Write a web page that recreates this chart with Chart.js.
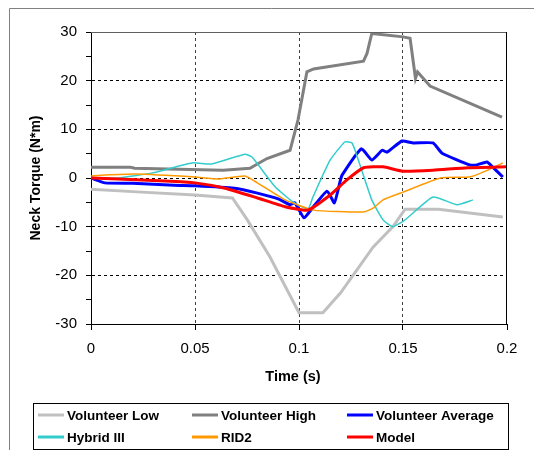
<!DOCTYPE html>
<html>
<head>
<meta charset="utf-8">
<script src="https://cdn.jsdelivr.net/npm/chart.js@4.4.1/dist/chart.umd.min.js"></script>
<style>
  html, body { margin: 0; padding: 0; background: #fff; }
  #wrap { position: relative; width: 534px; height: 450px; }
</style>
</head>
<body>
<div id="wrap"><canvas id="torque" width="534" height="450"></canvas></div>
<script>
// values (time in s, torque in N*m)
const lowT = [0, 0.02, 0.05, 0.068, 0.075, 0.086, 0.1, 0.1115, 0.12, 0.1356, 0.1452, 0.151, 0.167, 0.198];
const lowV = [-2.3, -2.8, -3.5, -4.1, -8.5, -16.2, -27.7, -27.7, -23.6, -14.2, -10, -6.4, -6.4, -8.0];

const highT = [0, 0.019, 0.021, 0.0635, 0.0764, 0.0846, 0.0957, 0.0995, 0.1038, 0.107, 0.131, 0.1327, 0.135, 0.15, 0.1534, 0.156, 0.157, 0.163, 0.1976];
const highV = [2.2, 2.2, 2.0, 1.6, 2.0, 4.0, 5.7, 11.9, 21.8, 22.4, 24, 25.6, 29.7, 29, 28.7, 20.5, 21.8, 18.9, 12.5];

const avgT = [0, 0.0067, 0.02, 0.04, 0.05, 0.069, 0.08, 0.09, 0.0957, 0.098, 0.1024, 0.106, 0.1135, 0.117, 0.1197, 0.1207, 0.13, 0.135, 0.14, 0.1423, 0.1495, 0.155, 0.1644, 0.1688, 0.182, 0.1856, 0.1904, 0.193, 0.198];
const avgV = [0, -1.0, -1.1, -1.5, -1.6, -2.1, -3.1, -4.3, -5.5, -5.1, -8.2, -6.4, -2.7, -5.1, -0.8, 0.6, 6.0, 3.7, 5.7, 5.3, 7.6, 7.2, 7.2, 5.1, 2.7, 2.7, 3.3, 2.3, 0.2];

const hybT = [0, 0.013, 0.029, 0.0486, 0.058, 0.074, 0.0774, 0.0885, 0.097, 0.1043, 0.1067, 0.115, 0.122, 0.1255, 0.129, 0.135, 0.1404, 0.1452, 0.151, 0.1644, 0.176, 0.1837];
const hybV = [0, 0, 1.0, 3.1, 2.9, 4.9, 4.3, -1.8, -4.9, -6.4, -3.9, 3.7, 7.4, 7.2, 3.1, -4.5, -8.6, -10.0, -8.6, -3.9, -5.5, -4.5];

const ridT = [0, 0.0067, 0.021, 0.05, 0.061, 0.074, 0.08, 0.0933, 0.107, 0.131, 0.1356, 0.1404, 0.15, 0.168, 0.182, 0.1885, 0.198];
const ridV = [0.4, 0.6, 0.8, 0.2, -0.2, 0.4, -1.0, -4.5, -6.6, -7.0, -6.2, -4.5, -2.9, 0, 0.2, 1.2, 3.1];

const modT = [0, 0.013, 0.0356, 0.05, 0.0644, 0.08, 0.0933, 0.1043, 0.115, 0.123, 0.131, 0.1404, 0.15, 0.1644, 0.181, 0.2];
const modV = [0, -0.2, -0.6, -1.0, -2.1, -4.1, -5.9, -6.6, -3.5, -0.4, 2.1, 2.3, 1.4, 1.6, 2.1, 2.3];

const seriesNames = ["Volunteer Low", "Volunteer High", "Volunteer Average", "Hybrid III", "RID2", "Model"];
const seriesColors = ["#c0c0c0", "#808080", "#0000ff", "#33cccc", "#ff9900", "#ff0000"];
const seriesWidths = [3, 3, 3, 1.5, 1.5, 3];

const xTicks = [0, 0.05, 0.1, 0.15, 0.2];
const yTicks = [-30, -20, -10, 0, 10, 20, 30];

const FONT = "'Liberation Sans', Arial, sans-serif";

function pts(ts, vs) {
  return ts.map((t, i) => ({ x: t, y: vs[i] }));
}
const allT = [lowT, highT, avgT, hybT, ridT, modT];
const allV = [lowV, highV, avgV, hybV, ridV, modV];

const datasets = seriesNames.map((name, i) => ({
  label: name,
  data: pts(allT[i], allV[i]),
  borderColor: seriesColors[i],
  backgroundColor: seriesColors[i],
  borderWidth: seriesWidths[i],
  pointRadius: 0,
  tension: i < 2 ? 0 : 0.15,
  order: seriesNames.length - i,
}));

// frame, titles and the boxed legend
const extras = {
  id: "extras",
  afterDraw(chart) {
    const ctx = chart.ctx;
    const a = chart.chartArea;
    ctx.save();
    // outer frame
    ctx.strokeStyle = "#808080";
    ctx.lineWidth = 1;
    ctx.beginPath();
    ctx.moveTo(9.5, 450);
    ctx.lineTo(9.5, 8.5);
    ctx.lineTo(534, 8.5);
    ctx.stroke();
    // plot top + right
    ctx.strokeStyle = "#606060";
    ctx.beginPath();
    ctx.moveTo(a.left, a.top + 0.5);
    ctx.lineTo(a.right, a.top + 0.5);
    ctx.stroke();
    ctx.strokeStyle = "#000";
    ctx.beginPath();
    ctx.moveTo(a.right - 0.5, a.top);
    ctx.lineTo(a.right - 0.5, a.bottom);
    ctx.stroke();

    // axis titles
    ctx.fillStyle = "#000";
    ctx.font = "bold 14.5px " + FONT;
    ctx.textAlign = "center";
    ctx.textBaseline = "middle";
    ctx.fillText("Time (s)", 293, 377);
    ctx.save();
    ctx.translate(36, 178);
    ctx.rotate(-Math.PI / 2);
    ctx.font = "bold 14px " + FONT;
    ctx.fillText("Neck Torque (N*m)", 0, 0);
    ctx.restore();

    // legend box
    ctx.strokeStyle = "#000";
    ctx.strokeRect(33.5, 403.5, 475, 46);
    const colX = [38, 192, 347];
    const rowY = [415, 437];
    ctx.font = "bold 13.5px " + FONT;
    ctx.textAlign = "left";
    seriesNames.forEach((name, i) => {
      const x = colX[i % 3];
      const y = rowY[Math.floor(i / 3)];
      ctx.strokeStyle = seriesColors[i];
      ctx.lineWidth = 3;
      ctx.beginPath();
      ctx.moveTo(x, y);
      ctx.lineTo(x + 26, y);
      ctx.stroke();
      ctx.fillStyle = "#000";
      ctx.fillText(name, x + 29, y + 1);
    });
    ctx.restore();
  },
};

new Chart(document.getElementById("torque"), {
  type: "line",
  data: { datasets },
  options: {
    responsive: false,
    animation: false,
    devicePixelRatio: 1,
    layout: { padding: { left: 0, top: 32, right: 27, bottom: 0 } },
    plugins: { legend: { display: false }, tooltip: { enabled: false } },
    scales: {
      x: {
        type: "linear",
        min: 0,
        max: 0.2,
        afterFit(s) { s.height = 126; },
        afterBuildTicks(s) { s.ticks = xTicks.map((v) => ({ value: v })); },
        ticks: {
          color: "#000",
          font: { family: FONT, size: 15 },
          padding: 10,
          maxRotation: 0,
          callback: (v) => String(Number(v.toFixed(2))),
        },
        grid: {
          color: (c) => (c.tick && c.tick.value > 0 && c.tick.value < 0.2 ? "#404040" : "rgba(0,0,0,0)"),
          tickColor: "#000",
          tickLength: 6,
          lineWidth: 1,
        },
        border: { color: "#000", width: 1, dash: [3, 3] },
      },
      y: {
        min: -30,
        max: 30,
        afterFit(s) { s.width = 91; },
        afterBuildTicks(s) {
          const t = [];
          for (let v = -30; v <= 30; v += 5) t.push({ value: v });
          s.ticks = t;
        },
        ticks: {
          color: "#000",
          font: { family: FONT, size: 15 },
          padding: 9,
          callback: (v) => (yTicks.includes(v) ? String(v) : ""),
        },
        grid: {
          color: (c) => {
            const v = c.tick ? c.tick.value : 1;
            return v % 10 === 0 && Math.abs(v) < 30 ? "#000" : "rgba(0,0,0,0)";
          },
          tickColor: "#000",
          tickLength: 5,
          lineWidth: 1,
        },
        border: { color: "#000", width: 1, dash: [3, 3] },
      },
    },
  },
  plugins: [extras],
});
</script>
</body>
</html>
